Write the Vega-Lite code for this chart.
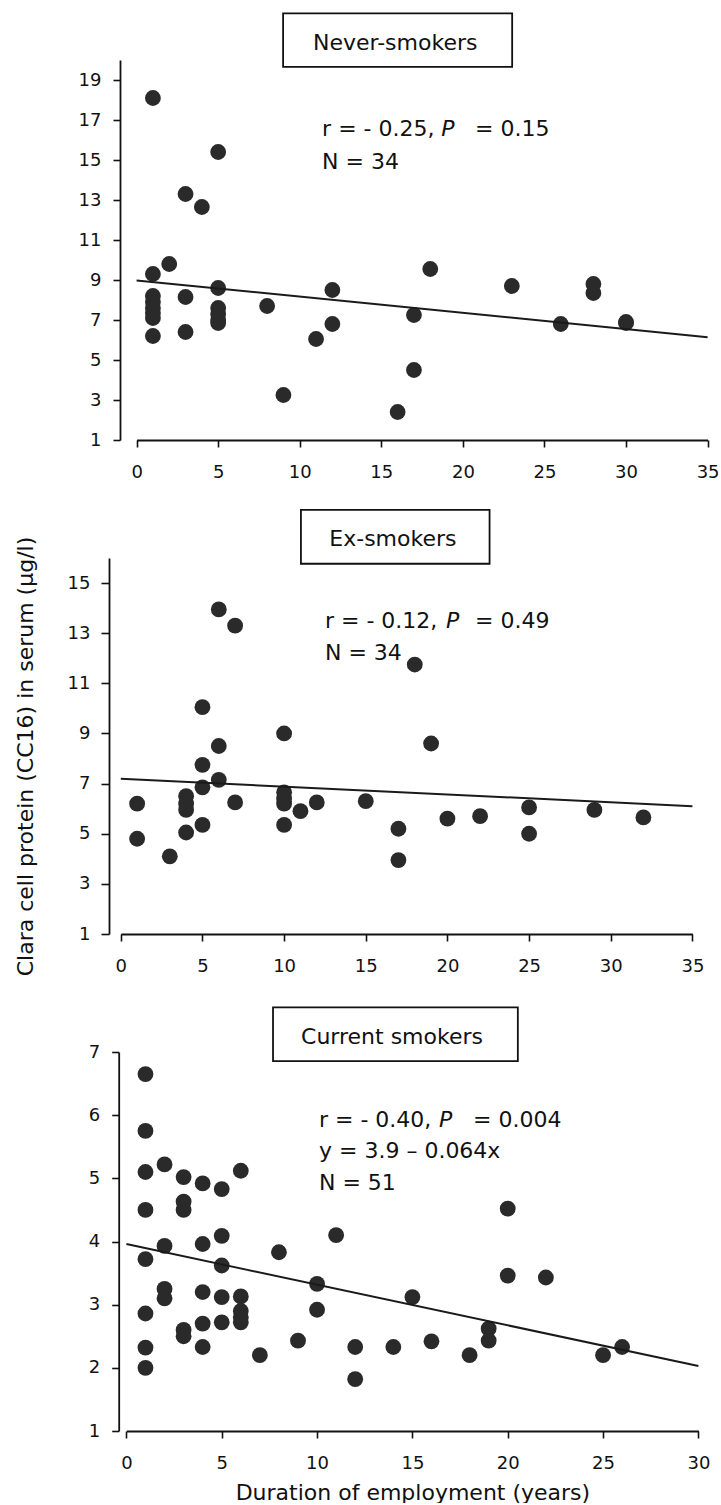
{
  "$schema": "https://vega.github.io/schema/vega-lite/v6.json",
  "padding": {"left": 14, "top": 12, "right": 0, "bottom": 0},
  "background": "white",
  "bounds": "flush",
  "spacing": 118,
  "config": {
    "view": {"stroke": null},
    "axis": {
      "domainColor": "#111111", "domainWidth": 1.8,
      "tickColor": "#111111", "tickWidth": 1.6, "tickSize": 7,
      "labelFont": "DejaVu Sans", "labelFontSize": 18, "labelColor": "#111111",
      "titleFont": "DejaVu Sans", "titleFontSize": 22, "titleFontWeight": "normal", "titleColor": "#111111",
      "grid": false, "labelFlush": false, "labelOverlap": false, "format": "d"
    },
    "axisX": {"labelPadding": 16},
    "axisY": {"labelPadding": 12}
  },
  "datasets": {
    "never": [
      {"x": 1, "y": 18.1}, {"x": 1, "y": 9.3}, {"x": 1, "y": 8.2}, {"x": 1, "y": 7.9}, {"x": 1, "y": 7.6}, {"x": 1, "y": 7.35}, {"x": 1, "y": 7.1}, {"x": 1, "y": 6.2},
      {"x": 2, "y": 9.8},
      {"x": 3, "y": 13.3}, {"x": 3, "y": 8.15}, {"x": 3, "y": 6.4},
      {"x": 4, "y": 12.65},
      {"x": 5, "y": 15.4}, {"x": 5, "y": 8.6}, {"x": 5, "y": 7.6}, {"x": 5, "y": 7.3}, {"x": 5, "y": 7.0}, {"x": 5, "y": 6.85},
      {"x": 8, "y": 7.7}, {"x": 9, "y": 3.25}, {"x": 11, "y": 6.05},
      {"x": 12, "y": 8.5}, {"x": 12, "y": 6.8},
      {"x": 16, "y": 2.4}, {"x": 17, "y": 7.25}, {"x": 17, "y": 4.5}, {"x": 18, "y": 9.55},
      {"x": 23, "y": 8.7}, {"x": 26, "y": 6.8}, {"x": 28, "y": 8.8}, {"x": 28, "y": 8.35},
      {"x": 30, "y": 6.9}, {"x": 30, "y": 6.85}
    ],
    "never_line": [{"x": 0, "y": 8.98}, {"x": 35, "y": 6.14}],
    "ex": [
      {"x": 1, "y": 6.2}, {"x": 1, "y": 4.8}, {"x": 3, "y": 4.1},
      {"x": 4, "y": 6.5}, {"x": 4, "y": 6.2}, {"x": 4, "y": 5.95}, {"x": 4, "y": 5.05},
      {"x": 5, "y": 10.05}, {"x": 5, "y": 7.75}, {"x": 5, "y": 6.85}, {"x": 5, "y": 5.35},
      {"x": 6, "y": 13.95}, {"x": 6, "y": 8.5}, {"x": 6, "y": 7.15},
      {"x": 7, "y": 13.3}, {"x": 7, "y": 6.25},
      {"x": 10, "y": 9.0}, {"x": 10, "y": 6.65}, {"x": 10, "y": 6.4}, {"x": 10, "y": 6.2}, {"x": 10, "y": 5.35},
      {"x": 11, "y": 5.9}, {"x": 12, "y": 6.25}, {"x": 15, "y": 6.3},
      {"x": 17, "y": 5.2}, {"x": 17, "y": 3.95}, {"x": 18, "y": 11.75}, {"x": 19, "y": 8.6},
      {"x": 20, "y": 5.6}, {"x": 22, "y": 5.7}, {"x": 25, "y": 6.05}, {"x": 25, "y": 5.0},
      {"x": 29, "y": 5.95}, {"x": 32, "y": 5.65}
    ],
    "ex_line": [{"x": 0, "y": 7.19}, {"x": 35, "y": 6.1}],
    "current": [
      {"x": 1, "y": 6.65}, {"x": 1, "y": 5.75}, {"x": 1, "y": 5.1}, {"x": 1, "y": 4.5}, {"x": 1, "y": 3.72}, {"x": 1, "y": 2.86}, {"x": 1, "y": 2.32}, {"x": 1, "y": 2.0},
      {"x": 2, "y": 5.22}, {"x": 2, "y": 3.93}, {"x": 2, "y": 3.25}, {"x": 2, "y": 3.1},
      {"x": 3, "y": 5.02}, {"x": 3, "y": 4.63}, {"x": 3, "y": 4.5}, {"x": 3, "y": 2.6}, {"x": 3, "y": 2.5},
      {"x": 4, "y": 4.92}, {"x": 4, "y": 3.96}, {"x": 4, "y": 3.2}, {"x": 4, "y": 2.7}, {"x": 4, "y": 2.33},
      {"x": 5, "y": 4.83}, {"x": 5, "y": 4.09}, {"x": 5, "y": 3.62}, {"x": 5, "y": 3.12}, {"x": 5, "y": 2.72},
      {"x": 6, "y": 5.12}, {"x": 6, "y": 3.13}, {"x": 6, "y": 2.9}, {"x": 6, "y": 2.8}, {"x": 6, "y": 2.72},
      {"x": 7, "y": 2.2}, {"x": 8, "y": 3.83}, {"x": 9, "y": 2.43},
      {"x": 10, "y": 3.33}, {"x": 10, "y": 2.92}, {"x": 11, "y": 4.1},
      {"x": 12, "y": 2.33}, {"x": 12, "y": 1.82},
      {"x": 14, "y": 2.33}, {"x": 15, "y": 3.12}, {"x": 16, "y": 2.42}, {"x": 18, "y": 2.2},
      {"x": 19, "y": 2.62}, {"x": 19, "y": 2.43},
      {"x": 20, "y": 4.52}, {"x": 20, "y": 3.46}, {"x": 22, "y": 3.43},
      {"x": 25, "y": 2.2}, {"x": 26, "y": 2.33}
    ],
    "current_line": [{"x": 0, "y": 3.96}, {"x": 30, "y": 2.03}]
  },
  "vconcat": [
    {
      "width": 600, "height": 380,
      "layer": [
        {
          "data": {"name": "never"},
          "mark": {"type": "circle", "size": 250, "fill": "#2a2a2a", "opacity": 1},
          "encoding": {
            "x": {"field": "x", "type": "quantitative",
              "scale": {"domain": [0, 35], "range": [16.6, 587.6], "nice": false, "zero": false},
              "axis": {"values": [0, 5, 10, 15, 20, 25, 30, 35], "title": null}},
            "y": {"field": "y", "type": "quantitative",
              "scale": {"domain": [1, 20], "nice": false, "zero": false},
              "axis": {"values": [1, 3, 5, 7, 9, 11, 13, 15, 17, 19], "title": null, "offset": 0}}
          }
        },
        {
          "data": {"name": "never_line"},
          "mark": {"type": "line", "color": "#1a1a1a", "strokeWidth": 2},
          "encoding": {"x": {"field": "x", "type": "quantitative"}, "y": {"field": "y", "type": "quantitative"}}
        },
        {
          "data": {"values": [{}]},
          "mark": {"type": "rect", "fill": "white", "fillOpacity": 0, "stroke": "#111111", "strokeWidth": 1.8},
          "encoding": {"x": {"datum": 8.98}, "x2": {"datum": 23.02}, "y": {"datum": 22.33}, "y2": {"datum": 19.66}}
        },
        {
          "data": {"values": [{}]},
          "mark": {"type": "text", "text": "Never-smokers", "font": "DejaVu Sans", "fontSize": 22, "align": "center", "baseline": "alphabetic", "color": "#111111"},
          "encoding": {"x": {"datum": 15.85}, "y": {"datum": 20.5}}
        },
        {
          "data": {"values": [{}]},
          "mark": {"type": "text", "text": "r = - 0.25,", "font": "DejaVu Sans", "fontSize": 22, "align": "left", "baseline": "alphabetic", "color": "#111111"},
          "encoding": {"x": {"datum": 11.37}, "y": {"datum": 16.21}}
        },
        {
          "data": {"values": [{}]},
          "mark": {"type": "text", "text": "P", "font": "DejaVu Sans", "fontStyle": "italic", "fontSize": 22, "align": "left", "baseline": "alphabetic", "color": "#111111"},
          "encoding": {"x": {"datum": 18.67}, "y": {"datum": 16.21}}
        },
        {
          "data": {"values": [{}]},
          "mark": {"type": "text", "text": "= 0.15", "font": "DejaVu Sans", "fontSize": 22, "align": "left", "baseline": "alphabetic", "color": "#111111"},
          "encoding": {"x": {"datum": 20.75}, "y": {"datum": 16.21}}
        },
        {
          "data": {"values": [{}]},
          "mark": {"type": "text", "text": "N = 34", "font": "DejaVu Sans", "fontSize": 22, "align": "left", "baseline": "alphabetic", "color": "#111111"},
          "encoding": {"x": {"datum": 11.37}, "y": {"datum": 14.54}}
        }
      ]
    },
    {
      "width": 600, "height": 376,
      "layer": [
        {
          "data": {"name": "ex"},
          "mark": {"type": "circle", "size": 250, "fill": "#2a2a2a", "opacity": 1},
          "encoding": {
            "x": {"field": "x", "type": "quantitative",
              "scale": {"domain": [0, 35], "range": [0.8, 572.4], "nice": false, "zero": false},
              "axis": {"values": [0, 5, 10, 15, 20, 25, 30, 35], "title": null}},
            "y": {"field": "y", "type": "quantitative",
              "scale": {"domain": [1, 16], "nice": false, "zero": false},
              "axis": {"values": [1, 2, 3, 4, 5, 6, 7, 8, 9, 10, 11, 12, 13, 14, 15, 16],
                "labelExpr": "datum.value % 2 == 1 ? datum.label : ''",
                "tickSize": {"condition": {"test": "datum.value % 2 == 0", "value": 4}, "value": 8},
                "labelPadding": 11,
                "offset": 11,
                "title": "Clara cell protein (CC16) in serum (µg/l)",
                "titlePadding": 30, "titleY": 198}}
          }
        },
        {
          "data": {"name": "ex_line"},
          "mark": {"type": "line", "color": "#1a1a1a", "strokeWidth": 2},
          "encoding": {"x": {"field": "x", "type": "quantitative"}, "y": {"field": "y", "type": "quantitative"}}
        },
        {
          "data": {"values": [{}]},
          "mark": {"type": "rect", "fill": "white", "fillOpacity": 0, "stroke": "#111111", "strokeWidth": 1.8},
          "encoding": {"x": {"datum": 11.03}, "x2": {"datum": 22.58}, "y": {"datum": 17.92}, "y2": {"datum": 15.77}}
        },
        {
          "data": {"values": [{}]},
          "mark": {"type": "text", "text": "Ex-smokers", "font": "DejaVu Sans", "fontSize": 22, "align": "center", "baseline": "alphabetic", "color": "#111111"},
          "encoding": {"x": {"datum": 16.66}, "y": {"datum": 16.46}}
        },
        {
          "data": {"values": [{}]},
          "mark": {"type": "text", "text": "r = - 0.12,", "font": "DejaVu Sans", "fontSize": 22, "align": "left", "baseline": "alphabetic", "color": "#111111"},
          "encoding": {"x": {"datum": 12.5}, "y": {"datum": 13.2}}
        },
        {
          "data": {"values": [{}]},
          "mark": {"type": "text", "text": "P", "font": "DejaVu Sans", "fontStyle": "italic", "fontSize": 22, "align": "left", "baseline": "alphabetic", "color": "#111111"},
          "encoding": {"x": {"datum": 19.91}, "y": {"datum": 13.2}}
        },
        {
          "data": {"values": [{}]},
          "mark": {"type": "text", "text": "= 0.49", "font": "DejaVu Sans", "fontSize": 22, "align": "left", "baseline": "alphabetic", "color": "#111111"},
          "encoding": {"x": {"datum": 21.69}, "y": {"datum": 13.2}}
        },
        {
          "data": {"values": [{}]},
          "mark": {"type": "text", "text": "N = 34", "font": "DejaVu Sans", "fontSize": 22, "align": "left", "baseline": "alphabetic", "color": "#111111"},
          "encoding": {"x": {"datum": 12.5}, "y": {"datum": 11.94}}
        }
      ]
    },
    {
      "width": 600, "height": 379,
      "layer": [
        {
          "data": {"name": "current"},
          "mark": {"type": "circle", "size": 250, "fill": "#2a2a2a", "opacity": 1},
          "encoding": {
            "x": {"field": "x", "type": "quantitative",
              "scale": {"domain": [0, 30], "range": [6.4, 578.4], "nice": false, "zero": false},
              "axis": {"values": [0, 5, 10, 15, 20, 25, 30], "title": "Duration of employment (years)", "titlePadding": 10}},
            "y": {"field": "y", "type": "quantitative",
              "scale": {"domain": [1, 7], "nice": false, "zero": false},
              "axis": {"values": [1, 2, 3, 4, 5, 6, 7], "title": null, "offset": 1.3}}
          }
        },
        {
          "data": {"name": "current_line"},
          "mark": {"type": "line", "color": "#1a1a1a", "strokeWidth": 2},
          "encoding": {"x": {"field": "x", "type": "quantitative"}, "y": {"field": "y", "type": "quantitative"}}
        },
        {
          "data": {"values": [{}]},
          "mark": {"type": "rect", "fill": "white", "fillOpacity": 0, "stroke": "#111111", "strokeWidth": 1.8},
          "encoding": {"x": {"datum": 7.69}, "x2": {"datum": 20.53}, "y": {"datum": 7.705}, "y2": {"datum": 6.855}}
        },
        {
          "data": {"values": [{}]},
          "mark": {"type": "text", "text": "Current smokers", "font": "DejaVu Sans", "fontSize": 22, "align": "center", "baseline": "alphabetic", "color": "#111111"},
          "encoding": {"x": {"datum": 13.93}, "y": {"datum": 7.133}}
        },
        {
          "data": {"values": [{}]},
          "mark": {"type": "text", "text": "r = - 0.40,", "font": "DejaVu Sans", "fontSize": 22, "align": "left", "baseline": "alphabetic", "color": "#111111"},
          "encoding": {"x": {"datum": 10.1}, "y": {"datum": 5.818}}
        },
        {
          "data": {"values": [{}]},
          "mark": {"type": "text", "text": "P", "font": "DejaVu Sans", "fontStyle": "italic", "fontSize": 22, "align": "left", "baseline": "alphabetic", "color": "#111111"},
          "encoding": {"x": {"datum": 16.4}, "y": {"datum": 5.818}}
        },
        {
          "data": {"values": [{}]},
          "mark": {"type": "text", "text": "= 0.004", "font": "DejaVu Sans", "fontSize": 22, "align": "left", "baseline": "alphabetic", "color": "#111111"},
          "encoding": {"x": {"datum": 18.18}, "y": {"datum": 5.818}}
        },
        {
          "data": {"values": [{}]},
          "mark": {"type": "text", "text": "y = 3.9 – 0.064x", "font": "DejaVu Sans", "fontSize": 22, "align": "left", "baseline": "alphabetic", "color": "#111111"},
          "encoding": {"x": {"datum": 10.1}, "y": {"datum": 5.318}}
        },
        {
          "data": {"values": [{}]},
          "mark": {"type": "text", "text": "N = 51", "font": "DejaVu Sans", "fontSize": 22, "align": "left", "baseline": "alphabetic", "color": "#111111"},
          "encoding": {"x": {"datum": 10.1}, "y": {"datum": 4.819}}
        }
      ]
    }
  ]
}
